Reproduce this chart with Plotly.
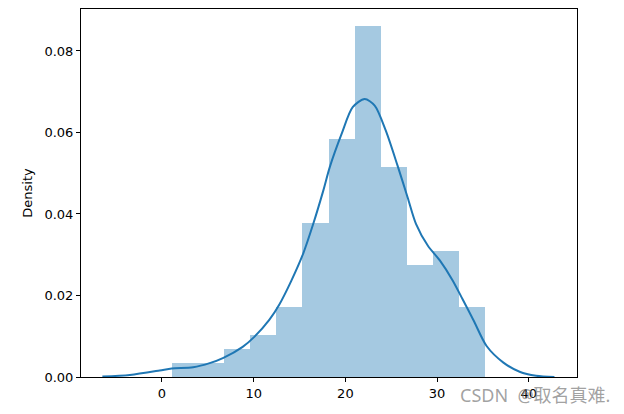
import plotly.graph_objects as go

# Histogram (density)
bin_edges = [1.06, 3.91, 6.76, 9.61, 12.46, 15.31, 18.16, 21.01, 23.86, 26.71, 29.56, 32.41, 35.26]
bin_density = [0.0034, 0.0034, 0.0069, 0.0103, 0.0171, 0.0378, 0.0585, 0.0862, 0.0516, 0.0275, 0.0309, 0.0171]

# KDE curve points
kde_x = [-6.5, -3.5, -0.25, 1.06, 3.4, 5.2, 6.7, 8.8, 10.1, 11.7, 12.8, 14.1, 15.4, 16.5,
         17.6, 18.3, 19.6, 20.8, 22.1, 23.2, 24.4, 25.7, 26.8, 27.7, 29.0, 30.3, 31.7, 32.8,
         34.0, 35.4, 37.2, 39.0, 40.8, 42.8]
kde_y = [0.0001, 0.0005, 0.0016, 0.0021, 0.0024, 0.0034, 0.0047, 0.0074, 0.0099, 0.0140, 0.0178,
         0.0236, 0.0303, 0.0376, 0.0458, 0.0515, 0.0597, 0.0662, 0.0682, 0.0666, 0.0605,
         0.0518, 0.0440, 0.0376, 0.0322, 0.0286, 0.0237, 0.0190, 0.0138, 0.0076, 0.0036, 0.0013,
         0.0003, 0.0]

x_ticks = [0, 10, 20, 30, 40]
y_ticks = [0.00, 0.02, 0.04, 0.06, 0.08]

centers = [(a + b) / 2 for a, b in zip(bin_edges[:-1], bin_edges[1:])]
widths = [b - a for a, b in zip(bin_edges[:-1], bin_edges[1:])]

fig = go.Figure()
fig.add_trace(go.Bar(x=centers, y=bin_density, width=widths,
                     marker=dict(color="rgba(31,119,180,0.4)", line=dict(width=0)),
                     hoverinfo="skip"))
fig.add_trace(go.Scatter(x=kde_x, y=kde_y, mode="lines",
                         line=dict(color="#1f77b4", width=2, shape="spline", smoothing=0.8)))

axis_common = dict(showgrid=False, zeroline=False, showline=True, linecolor="black",
                   linewidth=1, mirror=True, ticks="outside", ticklen=4, tickwidth=1,
                   tickcolor="black", tickfont=dict(family="DejaVu Sans", size=13, color="black"))
fig.update_xaxes(range=[-8.83, 45.26], tickvals=x_ticks, ticktext=[str(v) for v in x_ticks],
                 **axis_common)
fig.update_yaxes(range=[0, 0.0903], tickvals=y_ticks, ticktext=[f"{v:.2f}" for v in y_ticks],
                 title=dict(text="Density", font=dict(family="DejaVu Sans", size=13, color="black"),
                            standoff=8),
                 **axis_common)

fig.add_annotation(text="CSDN\u00a0\u00a0@取名真难.", xref="paper", yref="paper", x=1.07, y=-0.05,
                   xanchor="right", yanchor="middle", showarrow=False,
                   font=dict(family="Noto Sans, Noto Sans CJK SC", size=18,
                             color="rgba(120,120,120,0.7)"))

fig.update_layout(width=624, height=414, margin=dict(l=73, r=55, t=1, b=45),
                  plot_bgcolor="white", paper_bgcolor="white", showlegend=False, bargap=0)
fig.write_html("out.html")
